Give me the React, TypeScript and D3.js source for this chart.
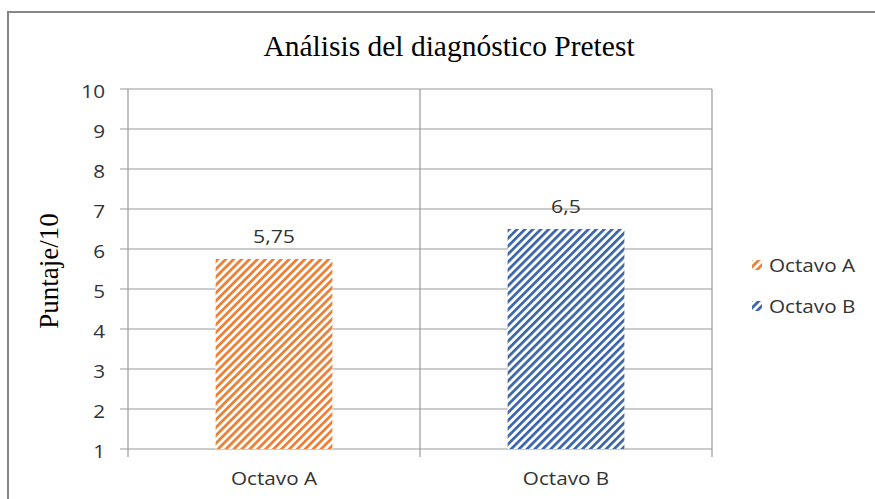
import React, { useRef, useEffect } from 'react';
import * as d3 from 'd3';

const categories = ['Octavo A', 'Octavo B'];
const scores = [5.75, 6.5];
const scoreLabels = ['5,75', '6,5'];
const yTicks = [1, 2, 3, 4, 5, 6, 7, 8, 9, 10];
const barColors = ['#ED7D31', '#3A66A8'];

const W = 875;
const H = 499;
const SANS = "'Open Sans', 'Liberation Sans', sans-serif";
const SERIF = "'Liberation Serif', 'Times New Roman', serif";
const SX = 1.15; // text in the reference is a little wide

const App = () => {
  const ref = useRef<SVGSVGElement>(null);

  useEffect(() => {
    if (!ref.current) return;
    const svg = d3.select(ref.current);
    svg.selectAll('*').remove();

    const plot = { left: 128, right: 712, top: 89, bottom: 449 };

    const x = d3.scaleBand().domain(categories).range([plot.left, plot.right]).paddingInner(0.6).paddingOuter(0.3);
    const xBand = d3.scaleBand().domain(categories).range([plot.left, plot.right]);
    const y = d3.scaleLinear().domain([1, 10]).range([plot.bottom, plot.top]);

    // hatch patterns
    const defs = svg.append('defs');
    categories.forEach((c, i) => {
      const p = defs.append('pattern')
        .attr('id', `hatch${i}`)
        .attr('patternUnits', 'userSpaceOnUse')
        .attr('width', 5.6)
        .attr('height', 10)
        .attr('patternTransform', 'rotate(45)');
      p.append('rect').attr('width', 5.6).attr('height', 10).attr('fill', '#fff');
      p.append('rect').attr('width', 2.7).attr('height', 10).attr('fill', barColors[i]);
    });

    // outer frame
    svg.append('rect')
      .attr('x', 8).attr('y', 12).attr('width', 880).attr('height', 500)
      .attr('fill', '#fff').attr('stroke', '#868686').attr('stroke-width', 2);

    // horizontal gridlines
    svg.append('g').selectAll('line').data(yTicks).enter().append('line')
      .attr('x1', plot.left - 8).attr('x2', plot.right)
      .attr('y1', (d) => y(d)).attr('y2', (d) => y(d))
      .attr('stroke', '#9A9A9A').attr('stroke-width', 1.2);

    // vertical lines at category boundaries
    const bounds = [plot.left, ...categories.map((c) => (xBand(c) as number) + xBand.bandwidth())];
    svg.append('g').selectAll('line').data(bounds).enter().append('line')
      .attr('x1', (d) => d).attr('x2', (d) => d)
      .attr('y1', plot.top).attr('y2', plot.bottom + 8)
      .attr('stroke', '#9A9A9A').attr('stroke-width', 1.2);

    // y tick labels
    svg.append('g').selectAll('g').data(yTicks).enter().append('g')
      .attr('transform', (d) => `translate(105, ${y(d) + 2}) scale(${SX},1)`)
      .append('text')
      .attr('text-anchor', 'end').attr('dominant-baseline', 'central')
      .attr('font-family', SANS).attr('font-size', 18).attr('fill', '#333')
      .text((d) => d);

    // bars
    svg.append('g').selectAll('rect').data(scores).enter().append('rect')
      .attr('x', (d, i) => x(categories[i]) as number)
      .attr('width', x.bandwidth())
      .attr('y', (d) => y(d))
      .attr('height', (d) => y(1) - y(d))
      .attr('fill', (d, i) => `url(#hatch${i})`);

    // value labels
    svg.append('g').selectAll('g').data(scores).enter().append('g')
      .attr('transform', (d, i) => `translate(${(x(categories[i]) as number) + x.bandwidth() / 2}, ${y(d) - 16}) scale(${SX},1)`)
      .append('text')
      .attr('text-anchor', 'middle')
      .attr('font-family', SANS).attr('font-size', 18.5).attr('fill', '#333')
      .text((d, i) => scoreLabels[i]);

    // x labels
    svg.append('g').selectAll('g').data(categories).enter().append('g')
      .attr('transform', (c) => `translate(${(xBand(c) as number) + xBand.bandwidth() / 2}, 485) scale(${SX},1)`)
      .append('text')
      .attr('text-anchor', 'middle')
      .attr('font-family', SANS).attr('font-size', 18).attr('fill', '#333')
      .text((c) => c);

    // title
    svg.append('text')
      .attr('x', 449).attr('y', 56)
      .attr('text-anchor', 'middle')
      .attr('font-family', SERIF).attr('font-size', 29.5).attr('fill', '#000')
      .text('Análisis del diagnóstico Pretest');

    // y axis label
    svg.append('text')
      .attr('transform', 'translate(58, 271) rotate(-90)')
      .attr('text-anchor', 'middle')
      .attr('font-family', SERIF).attr('font-size', 27).attr('fill', '#000')
      .text('Puntaje/10');

    // legend
    const legend = svg.append('g').selectAll('g').data(categories).enter().append('g')
      .attr('transform', (c, i) => `translate(752, ${265 + i * 41})`);
    legend.append('rect')
      .attr('x', 0).attr('y', -5).attr('width', 10).attr('height', 10)
      .attr('fill', (c, i) => `url(#hatch${i})`);
    legend.append('g')
      .attr('transform', `translate(17, 0) scale(${SX},1)`)
      .append('text')
      .attr('dominant-baseline', 'central')
      .attr('font-family', SANS).attr('font-size', 18).attr('fill', '#333')
      .text((c) => c);
  }, []);

  return (
    <svg ref={ref} width={W} height={H} style={{ position: 'absolute', left: 0, top: 0, display: 'block' }} />
  );
};

export default App;
